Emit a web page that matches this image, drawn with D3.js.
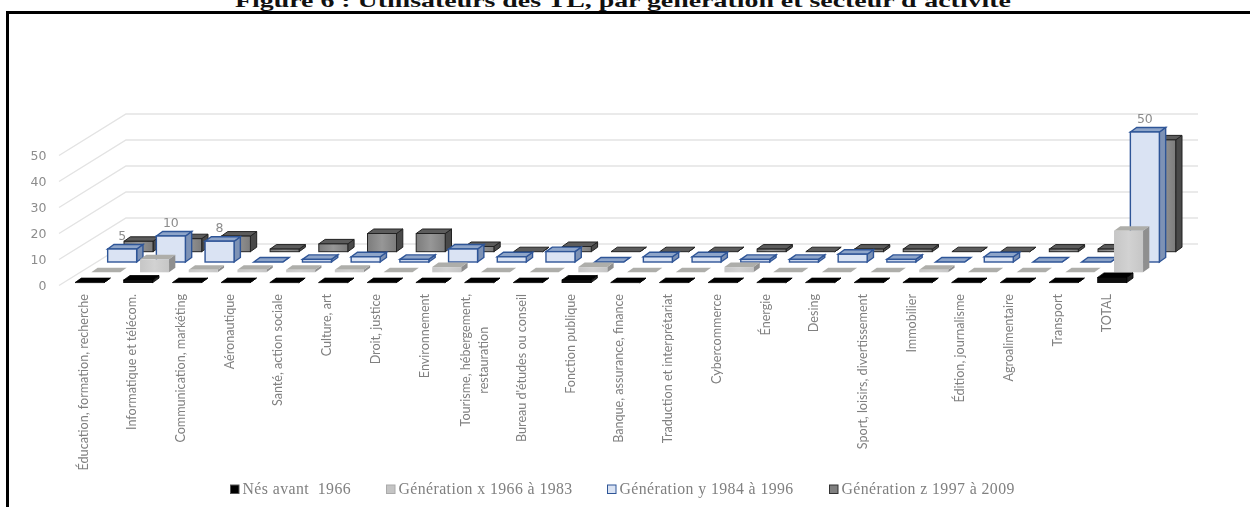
<!DOCTYPE html>
<html>
<head>
<meta charset="utf-8">
<script src="https://d3js.org/d3.v7.min.js"></script>
<style>
  html, body { margin: 0; padding: 0; background: #fff; }
  svg { display: block; }
</style>
</head>
<body>
<div id="chart"></div>
<script>
const categories = [
  'Éducation, formation, recherche', 'Informatique et télécom.', 'Communication, markéting',
  'Aéronautique', 'Santé, action sociale', 'Culture, art', 'Droit, justice', 'Environnement',
  'Tourisme, hébergement,|restauration', "Bureau d'études ou conseil", 'Fonction publique',
  'Banque, assurance, finance', 'Traduction et interprétariat', 'Cybercommerce', 'Énergie',
  'Desing', 'Sport, loisirs, divertissement', 'Immobilier', 'Édition, journalisme',
  'Agroalimentaire', 'Transport', 'TOTAL'
];

const avant1966 = [0, 1, 0, 0, 0, 0, 0, 0, 0, 0, 1, 0, 0, 0, 0, 0, 0, 0, 0, 0, 0, 2];
const generationX = [0, 5, 1, 1, 1, 1, 0, 2, 0, 0, 2, 0, 0, 2, 0, 0, 0, 1, 0, 0, 0, 16];
const generationY = [5, 10, 8, 0, 1, 2, 1, 5, 2, 4, 0, 2, 2, 1, 1, 3, 1, 0, 2, 0, 0, 50];
const generationZ = [4, 5, 6, 1, 3, 7, 7, 2, 0, 2, 0, 0, 0, 1, 0, 1, 1, 0, 0, 1, 1, 43];

const seriesNames = ['Nés avant  1966', 'Génération x 1966 à 1983', 'Génération y 1984 à 1996', 'Génération z 1997 à 2009'];
const valueTicks = [0, 10, 20, 30, 40, 50];
const labelledCats = ['Éducation, formation, recherche', 'Informatique et télécom.', 'Communication, markéting', 'TOTAL'];
const title = "Figure 6 :  Utilisateurs des TL, par génération et secteur d'activité";

const w = 1250;
const h = 507;

const styles = [
  { front: '#0c0c0c', top: '#000', side: '#222', stroke: '#000', sw: 0.8 },
  { front: 'url(#grayFront)', top: '#aeaeaa', side: '#8f8f8f', stroke: 'none', sw: 0 },
  { front: '#dae3f3', top: '#8ea5c9', side: '#7d92b5', stroke: '#2f5597', sw: 1.4 },
  { front: 'url(#darkFront)', top: '#5c5c5c', side: '#484848', stroke: '#222', sw: 1 },
];

const svg = d3.select('#chart').append('svg')
  .attr('width', w)
  .attr('height', h);

const defs = svg.append('defs');
defs.append('filter').attr('id', 'soft')
  .append('feGaussianBlur').attr('stdDeviation', 0.55);

function addGradient(id, stops) {
  const g = defs.append('linearGradient').attr('id', id);
  stops.forEach((c, i) => g.append('stop').attr('offset', i / (stops.length - 1)).attr('stop-color', c));
}
addGradient('grayFront', ['#c6c6c6', '#d2d2d2', '#c6c6c6']);
addGradient('darkFront', ['#7c7c7c', '#979797', '#7c7c7c']);

// title sits under the frame, the top of it is cut by the page edge
svg.append('text')
  .attr('x', 235)
  .attr('y', 7)
  .attr('textLength', 776)
  .attr('lengthAdjust', 'spacingAndGlyphs')
  .attr('font-family', 'Liberation Serif')
  .attr('font-weight', 'bold')
  .attr('font-size', 18)
  .attr('fill', '#111')
  .text(title);

svg.append('path')
  .attr('d', `M7.5,${h}V12.5H${w}`)
  .attr('fill', 'none')
  .attr('stroke', '#000')
  .attr('stroke-width', 3);

const chart = svg.append('g').attr('filter', 'url(#soft)');

const yFront = d3.scaleLinear().domain([0, 50]).range([285.5, 155.5]);
const yBack = d3.scaleLinear().domain([0, 50]).range([244, 114]);
const xBar = d3.scalePoint().domain(categories).range([75, 1097.7]);
const xLabel = d3.scalePoint().domain(categories).range([83, 1106]);
const rowX = d3.scaleLinear().domain([0, 3]).range([0, 49]);
const rowY = d3.scaleLinear().domain([0, 3]).range([282.6, 251.7]);

const barW = 29;
const depthX = 6.3;
const depthY = 4.5;
const frontX = 59;
const backX = 126;
const backRight = 1198;

// walls
valueTicks.forEach((v) => {
  chart.append('path')
    .attr('d', `M${frontX},${yFront(v)}L${backX},${yBack(v)}H${backRight}`)
    .attr('fill', 'none')
    .attr('stroke', '#e3e3e3')
    .attr('stroke-width', 1.4);
});

const yAxis = d3.axisLeft(yFront).tickValues(valueTicks).tickSize(0).tickPadding(0);
const yAxisG = chart.append('g')
  .attr('transform', 'translate(46.5,0)')
  .call(yAxis);
yAxisG.select('.domain').remove();
yAxisG.selectAll('text')
  .attr('font-family', 'DejaVu Sans')
  .attr('font-size', 12.5)
  .attr('fill', '#8c8c8c');

// back row first so the front rows cover it
const rows = [avant1966, generationX, generationY, generationZ];
d3.range(3, -1, -1).forEach((r) => {
  const st = styles[r];
  const rowG = chart.append('g').attr('class', `row-${r}`);
  const bars = rowG.selectAll('g')
    .data(categories.map((c, i) => ({ c, v: rows[r][i] })))
    .enter()
    .append('g');

  const x0 = (d) => xBar(d.c) + rowX(r);
  const base = rowY(r);
  const top = (d) => base - (yFront(0) - yFront(d.v));

  bars.append('path')
    .attr('d', (d) => `M${x0(d) + barW},${top(d)}l${depthX},${-depthY}V${base - depthY}l${-depthX},${depthY}Z`)
    .attr('fill', st.side)
    .attr('stroke', st.stroke)
    .attr('stroke-width', st.sw);

  bars.append('path')
    .attr('d', (d) => `M${x0(d)},${top(d)}l${depthX},${-depthY}h${barW}l${-depthX},${depthY}Z`)
    .attr('fill', (d) => st.top)
    .attr('stroke', st.stroke)
    .attr('stroke-width', st.sw);

  bars.filter((d) => d.v > 0)
    .append('rect')
    .attr('x', x0)
    .attr('y', top)
    .attr('width', barW)
    .attr('height', (d) => base - top(d))
    .attr('fill', st.front)
    .attr('stroke', st.stroke)
    .attr('stroke-width', st.sw);

  if (r === 2) {
    bars.filter((d) => labelledCats.includes(d.c))
      .append('text')
      .attr('x', (d) => x0(d) + barW / 2)
      .attr('y', (d) => top(d) - 9.5)
      .attr('text-anchor', 'middle')
      .attr('font-family', 'DejaVu Sans')
      .attr('font-size', 12.5)
      .attr('fill', '#8c8c8c')
      .text((d) => d.v);
  }
});

// category labels, turned a quarter and hung from the axis
const xAxis = d3.axisBottom(xLabel).tickSize(0).tickFormat('');
const xAxisG = chart.append('g')
  .attr('transform', 'translate(0,294)')
  .call(xAxis);
xAxisG.select('.domain').remove();
xAxisG.selectAll('.tick').each(function (d) {
  const tick = d3.select(this);
  tick.select('text').remove();
  const lines = d.split('|');
  const t = (s) => tick.append('text')
    .attr('text-anchor', 'end')
    .attr('font-family', 'Lato')
    .attr('font-size', 12.6)
    .attr('fill', '#808080')
    .text(s);
  if (lines.length === 1) {
    t(lines[0]).attr('transform', 'translate(4,0) rotate(-90)');
  } else {
    const first = t(lines[0]).attr('transform', 'translate(-3,0) rotate(-90)');
    const second = t(lines[1]);
    const gap = (first.node().getComputedTextLength() - second.node().getComputedTextLength()) / 2;
    second.attr('transform', `translate(15,${gap}) rotate(-90)`);
  }
});

// legend
const legendX = [230, 386, 607, 829];
const legendFill = ['#000', '#c4c4c4', '#dae3f3', '#808080'];
const legendStroke = ['#555', '#aaa', '#2f5597', '#333'];
const legend = chart.selectAll('.legend')
  .data(seriesNames)
  .enter()
  .append('g')
  .attr('class', 'legend')
  .attr('transform', (d, i) => `translate(${legendX[i]},489)`);

legend.append('rect')
  .attr('x', 0.5)
  .attr('y', -4)
  .attr('width', 8.5)
  .attr('height', 8.5)
  .attr('fill', (d, i) => legendFill[i])
  .attr('stroke', (d, i) => legendStroke[i])
  .attr('stroke-width', 1);

legend.append('text')
  .attr('x', 12.5)
  .attr('y', 4.5)
  .attr('xml:space', 'preserve')
  .attr('font-family', 'Liberation Serif')
  .attr('font-size', 15.8)
  .attr('letter-spacing', 0.42)
  .attr('fill', '#808080')
  .text((d) => d);
</script>
</body>
</html>
